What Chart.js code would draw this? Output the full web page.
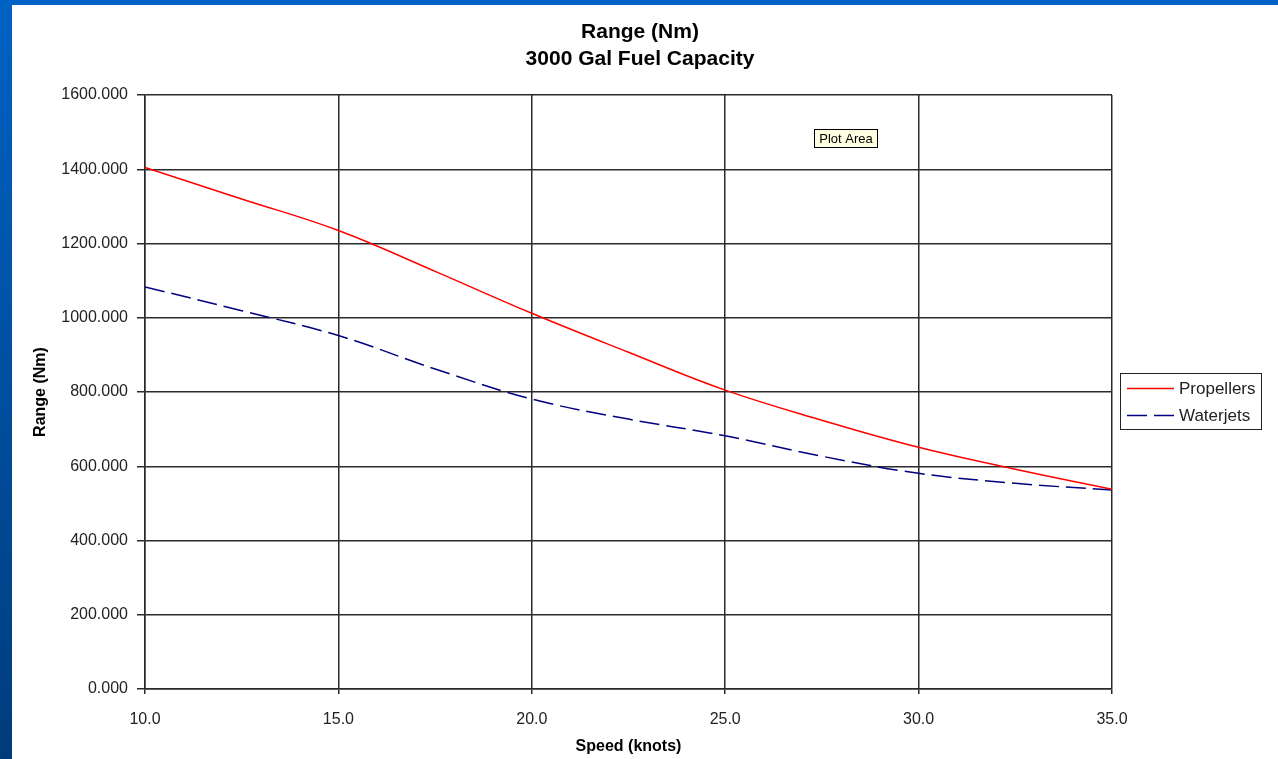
<!DOCTYPE html>
<html>
<head>
<meta charset="utf-8">
<script src="https://cdn.jsdelivr.net/npm/chart.js@4/dist/chart.umd.min.js"></script>
<style>
    body { margin: 0; background: #fff; width: 1278px; height: 759px; overflow: hidden; position: relative; }
    #leftBar { position: absolute; left: 0; top: 0; width: 12px; height: 759px; background: linear-gradient(#0062c4, #003c7c); }
    #topBar { position: absolute; left: 0; top: 0; width: 1278px; height: 5px; background: #0062c4; }
    #rangeChart { position: absolute; left: 12px; top: 5px; }
</style>
</head>
<body>
<div id="leftBar"></div>
<div id="topBar"></div>
<canvas id="rangeChart" width="1266" height="754"></canvas>
<script>
// Dữ liệu biểu đồ
const speeds = [10, 12.5, 15, 17.5, 20, 22.5, 25, 27.5, 30, 32.5, 35];
const propellers = [1405, 1320, 1235, 1125, 1012, 907, 805, 724, 651, 592, 538];
const waterjets = [1083, 1019, 952, 862, 781, 727, 682, 627, 581, 554, 536];
const xTickValues = [10, 15, 20, 25, 30, 35];
const yTickValues = [0, 200, 400, 600, 800, 1000, 1200, 1400, 1600];
const seriesNames = ['Propellers', 'Waterjets'];
const titleLines = ['Range (Nm)', '3000 Gal Fuel Capacity'];

const gridColor = '#2a2a2a';

// Hàm ghép tốc độ với giá trị
function toPoints(values) {
    return speeds.map((s, i) => ({ x: s, y: values[i] }));
}

// Vẽ tiêu đề, chú thích và nhãn "Plot Area"
const extrasPlugin = {
    id: 'extras',
    afterDraw(chart) {
        const ctx = chart.ctx;
        ctx.save();

        // Tiêu đề
        ctx.fillStyle = '#000';
        ctx.font = 'bold 21px Arial, "Liberation Sans", sans-serif';
        ctx.textAlign = 'center';
        ctx.textBaseline = 'middle';
        ctx.fillText(titleLines[0], 628, 27);
        ctx.fillText(titleLines[1], 628, 54);

        // Nhãn Plot Area
        ctx.fillStyle = '#ffffe1';
        ctx.fillRect(802, 124, 63, 18);
        ctx.strokeStyle = '#000';
        ctx.lineWidth = 1;
        ctx.strokeRect(802.5, 124.5, 63, 18);
        ctx.fillStyle = '#000';
        ctx.font = '13px Arial, "Liberation Sans", sans-serif';
        ctx.fillText('Plot Area', 834, 134);

        // Chú thích
        ctx.fillStyle = '#fff';
        ctx.fillRect(1108.5, 368.5, 141, 56);
        ctx.strokeStyle = '#222';
        ctx.strokeRect(1108.5, 368.5, 141, 56);
        const ds = chart.data.datasets;
        const rows = [383, 410];
        ctx.font = '17px Arial, "Liberation Sans", sans-serif';
        ctx.textAlign = 'left';
        rows.forEach((y, i) => {
            ctx.strokeStyle = ds[i].borderColor;
            ctx.lineWidth = 1.5;
            ctx.setLineDash(ds[i].borderDash || []);
            ctx.beginPath();
            ctx.moveTo(1115, y + 0.5);
            ctx.lineTo(1162, y + 0.5);
            ctx.stroke();
            ctx.setLineDash([]);
            ctx.fillStyle = '#222';
            ctx.fillText(seriesNames[i], 1167, y + 1);
        });
        ctx.restore();
    }
};

const ctx = document.getElementById('rangeChart').getContext('2d');
new Chart(ctx, {
    type: 'line',
    data: {
        datasets: [
            {
                label: seriesNames[0],
                data: toPoints(propellers),
                borderColor: '#ff0000',
                borderWidth: 1.5,
                pointRadius: 0,
                tension: 0.4,
                fill: false
            },
            {
                label: seriesNames[1],
                data: toPoints(waterjets),
                borderColor: '#000080',
                borderWidth: 1.5,
                borderDash: [20, 7],
                pointRadius: 0,
                tension: 0.4,
                fill: false
            }
        ]
    },
    options: {
        responsive: false,
        animation: false,
        layout: {
            padding: { left: 0, top: 90, right: 166, bottom: 0 }
        },
        plugins: {
            legend: { display: false },
            title: { display: false },
            tooltip: { enabled: false }
        },
        scales: {
            x: {
                type: 'linear',
                min: 10,
                max: 35,
                afterBuildTicks: (scale) => {
                    scale.ticks = xTickValues.map(v => ({ value: v }));
                },
                afterFit: (scale) => { scale.height = 70; },
                ticks: {
                    callback: (v) => Number(v).toFixed(1),
                    color: '#222',
                    font: { family: 'Arial, "Liberation Sans", sans-serif', size: 16 },
                    padding: 16,
                    maxRotation: 0
                },
                grid: { color: gridColor, lineWidth: 1.5, tickLength: 5, tickColor: gridColor },
                border: { color: gridColor, width: 1.5 },
                title: {
                    display: true,
                    text: 'Speed (knots)',
                    color: '#000',
                    font: { family: 'Arial, "Liberation Sans", sans-serif', size: 16, weight: 'bold' },
                    padding: { top: 0, bottom: 3 }
                }
            },
            y: {
                min: 0,
                max: 1600,
                afterBuildTicks: (scale) => {
                    scale.ticks = yTickValues.map(v => ({ value: v }));
                },
                afterFit: (scale) => { scale.width = 133; },
                ticks: {
                    callback: (v) => Number(v).toFixed(3),
                    color: '#222',
                    font: { family: 'Arial, "Liberation Sans", sans-serif', size: 16 },
                    padding: 9
                },
                grid: { color: gridColor, lineWidth: 1.5, tickLength: 8, tickColor: gridColor },
                border: { color: gridColor, width: 1.5 },
                title: {
                    display: true,
                    text: 'Range (Nm)',
                    color: '#000',
                    font: { family: 'Arial, "Liberation Sans", sans-serif', size: 16, weight: 'bold' },
                    padding: { top: 19, bottom: 0 }
                }
            }
        }
    },
    plugins: [extrasPlugin]
});
</script>
</body>
</html>
